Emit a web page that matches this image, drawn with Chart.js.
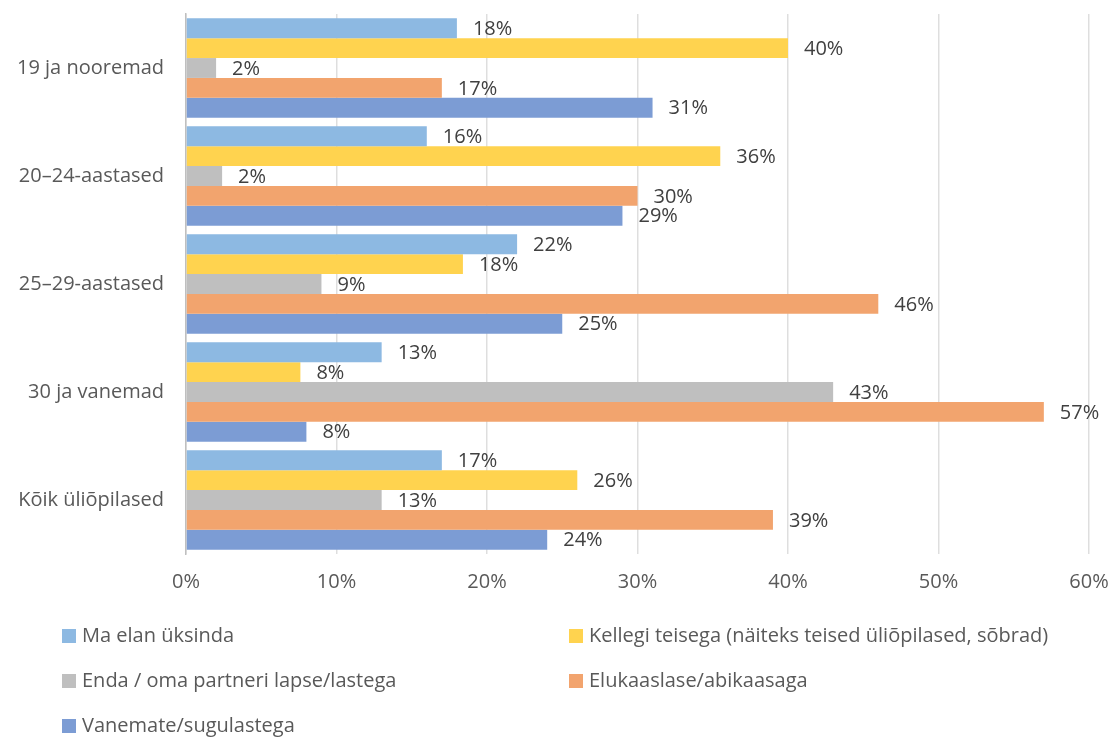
<!DOCTYPE html>
<html>
<head>
<meta charset="utf-8">
<script src="https://cdn.jsdelivr.net/npm/chart.js@4.4.1/dist/chart.umd.min.js"></script>
<style>
  html, body { margin: 0; padding: 0; background: #fff; }
  #wrap { width: 1115px; height: 738px; position: relative; }
</style>
</head>
<body>
<div id="wrap"><canvas id="livingChart"></canvas></div>
<script>
const categories = ['19 ja nooremad', '20–24-aastased', '25–29-aastased', '30 ja vanemad', 'Kõik üliõpilased'];
const seriesNames = [
    'Ma elan üksinda',
    'Kellegi teisega (näiteks teised üliõpilased, sõbrad)',
    'Enda / oma partneri lapse/lastega',
    'Elukaaslase/abikaasaga',
    'Vanemate/sugulastega'
];
const alone   = [18, 16, 22, 13, 17];
const others  = [40, 35.5, 18.4, 7.6, 26];
const kids    = [2, 2.4, 9, 43, 13];
const partner = [17, 30, 46, 57, 39];
const parents = [31, 29, 25, 8, 24];
const xTicks = [0, 10, 20, 30, 40, 50, 60];

const seriesValues = [alone, others, kids, partner, parents];
const colors = ['#8DB9E2', '#FFD34F', '#BFBFBF', '#F2A46E', '#7C9CD4'];
const FONT = '"Open Sans", sans-serif';
const FS = 20;

// value labels at the end of each bar
const barLabels = {
    id: 'barLabels',
    afterDatasetsDraw(chart) {
        const ctx = chart.ctx;
        ctx.save();
        ctx.font = FS + 'px ' + FONT;
        ctx.fillStyle = '#404040';
        ctx.textBaseline = 'middle';
        chart.data.datasets.forEach((ds, i) => {
            chart.getDatasetMeta(i).data.forEach((bar, j) => {
                ctx.fillText(Math.round(ds.data[j]) + '%', bar.x + 16, bar.y + 1);
            });
        });
        ctx.restore();
    }
};

// two-column legend under the chart
const bottomLegend = {
    id: 'bottomLegend',
    afterDraw(chart) {
        const ctx = chart.ctx;
        ctx.save();
        ctx.font = FS + 'px ' + FONT;
        ctx.textBaseline = 'middle';
        const colX = [62, 569];
        const rowY = [636, 681, 726];
        seriesNames.forEach((name, i) => {
            const x = colX[i % 2];
            const y = rowY[Math.floor(i / 2)];
            ctx.fillStyle = colors[i];
            ctx.fillRect(x, y - 7, 14, 14);
            ctx.fillStyle = '#595959';
            ctx.fillText(name, x + 20, y);
        });
        ctx.restore();
    }
};

new Chart(document.getElementById('livingChart').getContext('2d'), {
    type: 'bar',
    data: {
        labels: categories,
        datasets: seriesValues.map((vals, i) => ({
            label: seriesNames[i],
            data: vals,
            backgroundColor: colors[i],
            categoryPercentage: 0.92,
            barPercentage: 1
        }))
    },
    options: {
        indexAxis: 'y',
        responsive: true,
        maintainAspectRatio: false,
        animation: false,
        layout: { padding: { top: 14, right: 26, bottom: 142, left: 0 } },
        scales: {
            x: {
                min: 0,
                max: 60,
                z: 1,
                afterBuildTicks: (scale) => { scale.ticks = xTicks.map(v => ({ value: v })); },
                afterFit: (scale) => {
                    scale.height = 42;
                    scale.paddingLeft = 0;
                    scale.paddingRight = 0;
                },
                ticks: {
                    callback: v => v + '%',
                    font: { family: FONT, size: FS },
                    color: '#595959',
                    padding: 16
                },
                grid: { color: 'rgba(0,0,0,0.13)', lineWidth: 1.5, drawTicks: false },
                border: { display: false }
            },
            y: {
                afterFit: (scale) => {
                    scale.width = 186;
                    scale.paddingTop = 0;
                    scale.paddingBottom = 0;
                },
                ticks: {
                    font: { family: FONT, size: FS },
                    color: '#595959',
                    padding: 14
                },
                grid: { display: false },
                border: { color: '#BFBFBF', width: 1.5 }
            }
        },
        plugins: {
            legend: { display: false },
            tooltip: { enabled: false }
        }
    },
    plugins: [barLabels, bottomLegend]
});
</script>
</body>
</html>
